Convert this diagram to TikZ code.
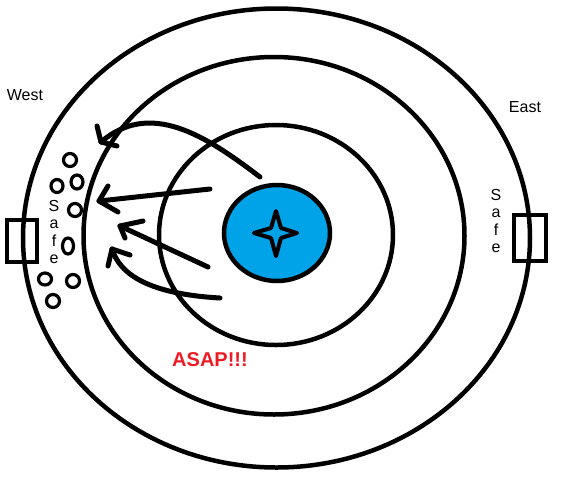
\documentclass[tikz,border=0pt]{standalone}
\usepackage{fontspec}
\setmainfont{Liberation Sans}
\definecolor{paintblue}{RGB}{0,162,232}
\definecolor{paintred}{RGB}{237,28,36}
\begin{document}
\begin{tikzpicture}[x=1pt,y=-1pt,
  ring/.style={line width=4.5pt},
  arrowline/.style={line width=5pt,line cap=round,line join=round},
  pebble/.style={line width=3.2pt},
  gate/.style={line width=4.5pt,line join=miter},
  lbl/.style={font=\fontsize{16}{18}\selectfont,inner sep=0pt,text=black},
  saferow/.style={font=\fontsize{16}{17.6}\selectfont,inner sep=0pt,align=center,text=black}]
\useasboundingbox (0,0) rectangle (576,480);
% rings
\draw[ring] (276.5,238) ellipse [x radius=253.5,y radius=229.5];
\draw[ring] (274,235.75) ellipse [x radius=190.5,y radius=178.75];
\draw[ring] (276,235) ellipse [x radius=117,y radius=110];
% core
\draw[line width=4.5pt,fill=paintblue] (277,233) ellipse [x radius=53,y radius=48];
\draw[line width=4pt,fill=paintblue,line join=round]
  (276,211) -- (281,228) -- (297,233) -- (281,238) -- (276,256) -- (271,238) -- (254,233) -- (271,228) -- cycle;
% gates
\draw[gate] (7,220) rectangle (37,262);
\draw[gate] (514,215) rectangle (546,261);
% pebbles
\foreach \cx/\cy/\rx/\ry in {70/160/6.5/6.5, 57/186/6/6.5, 77/182/6/7, 75/210/6.5/6.5, 68/246/5.5/8, 45/279/6.5/6, 73/281/6.5/6.5, 53/301/6.5/6.5}
  \draw[pebble] (\cx,\cy) ellipse [x radius=\rx,y radius=\ry];
% arrows
\draw[arrowline] (260,177) .. controls (205,135) and (150,100) .. (101,142);
\draw[arrowline] (97,126) -- (101,142) -- (117,146);
\draw[arrowline] (210,189) -- (99,201);
\draw[arrowline] (108,186) -- (99,201) -- (118,212);
\draw[arrowline] (208,267) -- (120,226);
\draw[arrowline] (143,221) -- (120,226) -- (125,238);
\draw[arrowline] (220,298) .. controls (150,294) and (120,275) .. (112,249);
\draw[arrowline] (130,255) -- (112,249) -- (108,266);
% labels
\node[lbl] (west) at (25,95) {West};
\node[lbl] (east) at (525,107) {East};
\node[saferow] (safeW) at (54,232) {S\\a\\f\\e};
\node[saferow] (safeE) at (496,221) {S\\a\\f\\e};
\node[inner sep=0pt,text=paintred,font=\fontsize{20}{22}\selectfont\bfseries] (asap) at (210,360) {ASAP!!!};
\end{tikzpicture}
\end{document}
